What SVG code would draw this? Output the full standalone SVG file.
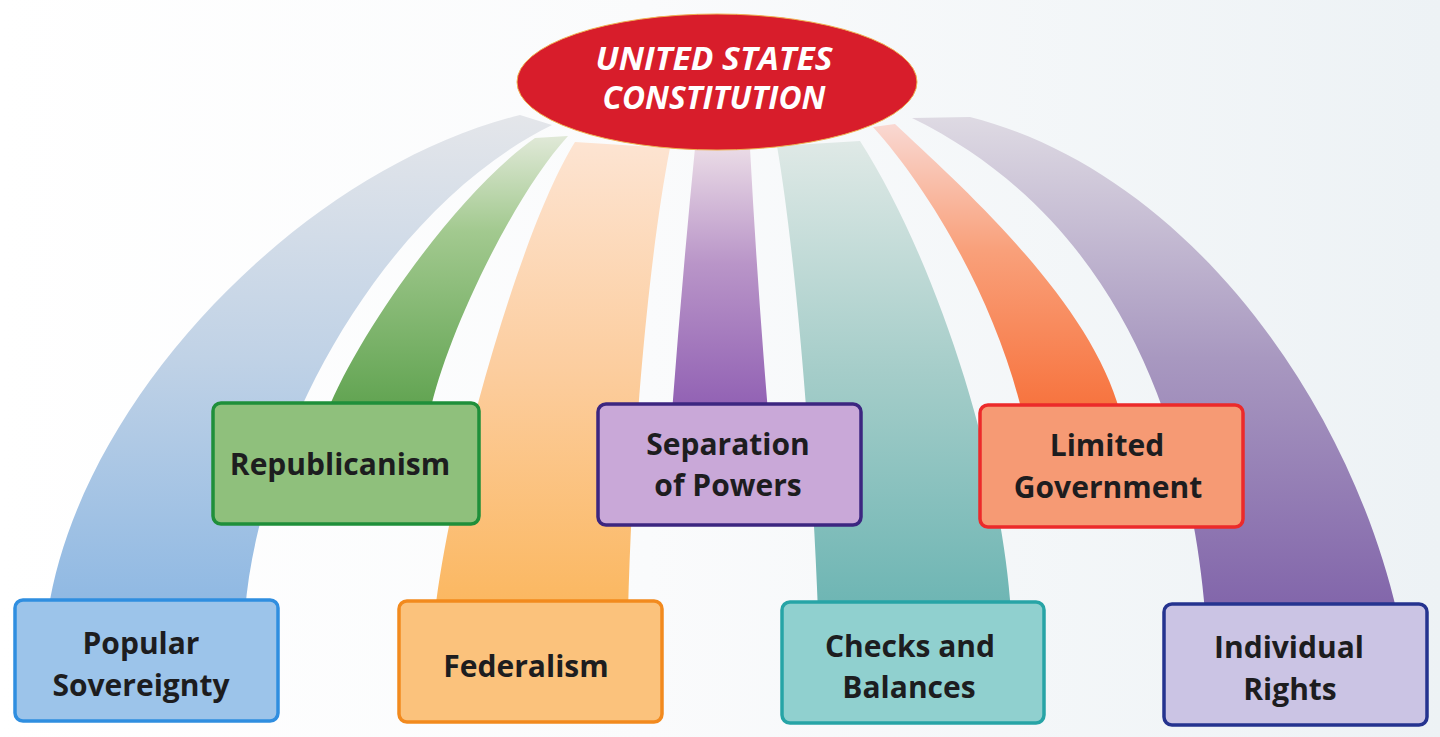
<svg xmlns="http://www.w3.org/2000/svg" width="1440" height="737" viewBox="0 0 1440 737">
  <defs>
    <style>
      .lbl { font-family: "Open Sans", "Noto Sans", "Liberation Sans", sans-serif; font-weight: 700; font-size: 30px; fill: #1d1d1f; text-anchor: middle; }
      .title { font-family: "Open Sans", "Noto Sans", "Liberation Sans", sans-serif; font-weight: 700; font-style: italic; font-size: 32px; fill: #ffffff; text-anchor: middle; }
      .box { stroke-width: 3.5; }
    </style>
    <linearGradient id="bg" x1="0" y1="0" x2="1" y2="0">
      <stop offset="0" stop-color="#ffffff"/>
      <stop offset="0.45" stop-color="#fafbfc"/>
      <stop offset="1" stop-color="#edf2f5"/>
    </linearGradient>
    <linearGradient id="gBlue" gradientUnits="userSpaceOnUse" x1="0" y1="115" x2="0" y2="600">
      <stop offset="0" stop-color="#e4e6ea"/>
      <stop offset="0.5" stop-color="#c0d2e6"/>
      <stop offset="1" stop-color="#90b9e3"/>
    </linearGradient>
    <linearGradient id="gGreen" gradientUnits="userSpaceOnUse" x1="0" y1="138" x2="0" y2="405">
      <stop offset="0" stop-color="#dfe8d6"/>
      <stop offset="0.35" stop-color="#a2c98f"/>
      <stop offset="1" stop-color="#62a452"/>
    </linearGradient>
    <linearGradient id="gOrange" gradientUnits="userSpaceOnUse" x1="0" y1="142" x2="0" y2="600">
      <stop offset="0" stop-color="#fde4d2"/>
      <stop offset="0.5" stop-color="#fccd9e"/>
      <stop offset="1" stop-color="#fbb862"/>
    </linearGradient>
    <linearGradient id="gPurple" gradientUnits="userSpaceOnUse" x1="0" y1="148" x2="0" y2="405">
      <stop offset="0" stop-color="#eadbe6"/>
      <stop offset="0.45" stop-color="#b995c8"/>
      <stop offset="1" stop-color="#9262b4"/>
    </linearGradient>
    <linearGradient id="gTeal" gradientUnits="userSpaceOnUse" x1="0" y1="142" x2="0" y2="600">
      <stop offset="0" stop-color="#dfe9e6"/>
      <stop offset="0.5" stop-color="#a5cdc9"/>
      <stop offset="1" stop-color="#6fb6b4"/>
    </linearGradient>
    <linearGradient id="gRed" gradientUnits="userSpaceOnUse" x1="0" y1="124" x2="0" y2="405">
      <stop offset="0" stop-color="#f9d8d2"/>
      <stop offset="0.45" stop-color="#f9a07a"/>
      <stop offset="1" stop-color="#f7743f"/>
    </linearGradient>
    <linearGradient id="gGray" gradientUnits="userSpaceOnUse" x1="0" y1="117" x2="0" y2="600">
      <stop offset="0" stop-color="#dedae3"/>
      <stop offset="0.5" stop-color="#a898c0"/>
      <stop offset="1" stop-color="#8367ab"/>
    </linearGradient>
  </defs>

  <rect x="0" y="0" width="1440" height="737" fill="url(#bg)"/>

  <g id="connectors">
    <path id="band-popular" fill="url(#gBlue)" d="M 520,115 C 300,170 80,400 48,612 L 245,612 C 258,440 380,210 552,125 Z"/>
    <path id="band-republicanism" fill="url(#gGreen)" d="M 327,412 C 360,330 460,190 535,138 L 568,136 C 510,200 445,340 430,412 Z"/>
    <path id="band-federalism" fill="url(#gOrange)" d="M 435,612 C 450,480 520,230 575,142 L 670,148 C 648,260 632,450 628,612 Z"/>
    <path id="band-separation" fill="url(#gPurple)" d="M 672,412 Q 682,280 695,148 L 750,148 Q 757,280 768,412 Z"/>
    <path id="band-checks" fill="url(#gTeal)" d="M 777,146 C 795,250 812,450 818,612 L 1011,612 C 1000,450 930,250 860,141 Z"/>
    <path id="band-limited" fill="url(#gRed)" d="M 873,127 C 930,190 995,300 1022,412 L 1120,412 C 1090,300 960,185 895,124 Z"/>
    <path id="band-individual" fill="url(#gGray)" d="M 912,118 L 970,117 C 1180,170 1345,390 1397,612 L 1205,612 C 1190,430 1120,220 912,118 Z"/>
  </g>

  <g id="node-constitution">
    <ellipse cx="717" cy="82" rx="200" ry="68" fill="#d81d2b" stroke="#efb050" stroke-width="1"/>
    <text class="title" x="714" y="70" textLength="237" lengthAdjust="spacingAndGlyphs">UNITED STATES</text>
    <text class="title" x="714" y="109" textLength="223" lengthAdjust="spacingAndGlyphs">CONSTITUTION</text>
  </g>

  <g id="node-republicanism">
    <rect class="box" x="213" y="403" width="266" height="121" rx="8" fill="#8fc07c" stroke="#1f8f3a"/>
    <text class="lbl" x="340" y="475">Republicanism</text>
  </g>

  <g id="node-separation">
    <rect class="box" x="598" y="404" width="263" height="121" rx="8" fill="#c9a8d8" stroke="#3c2680"/>
    <text class="lbl" x="728" y="455">Separation</text>
    <text class="lbl" x="728" y="496">of Powers</text>
  </g>

  <g id="node-limited">
    <rect class="box" x="980" y="405" width="263" height="122" rx="8" fill="#f69a74" stroke="#ec2a2a"/>
    <text class="lbl" x="1107" y="456">Limited</text>
    <text class="lbl" x="1108" y="498">Government</text>
  </g>

  <g id="node-popular">
    <rect class="box" x="15" y="600" width="263" height="121" rx="8" fill="#9cc4ea" stroke="#2f8ee0"/>
    <text class="lbl" x="141" y="654">Popular</text>
    <text class="lbl" x="141" y="696">Sovereignty</text>
  </g>

  <g id="node-federalism">
    <rect class="box" x="399" y="601" width="263" height="121" rx="8" fill="#fbc27c" stroke="#f28a1e"/>
    <text class="lbl" x="526" y="677">Federalism</text>
  </g>

  <g id="node-checks">
    <rect class="box" x="782" y="602" width="262" height="121" rx="8" fill="#90d0cf" stroke="#27a4a6"/>
    <text class="lbl" x="910" y="657">Checks and</text>
    <text class="lbl" x="909" y="698">Balances</text>
  </g>

  <g id="node-individual">
    <rect class="box" x="1164" y="604" width="263" height="121" rx="8" fill="#cbc4e4" stroke="#25338f"/>
    <text class="lbl" x="1289" y="658">Individual</text>
    <text class="lbl" x="1290" y="700">Rights</text>
  </g>
</svg>
